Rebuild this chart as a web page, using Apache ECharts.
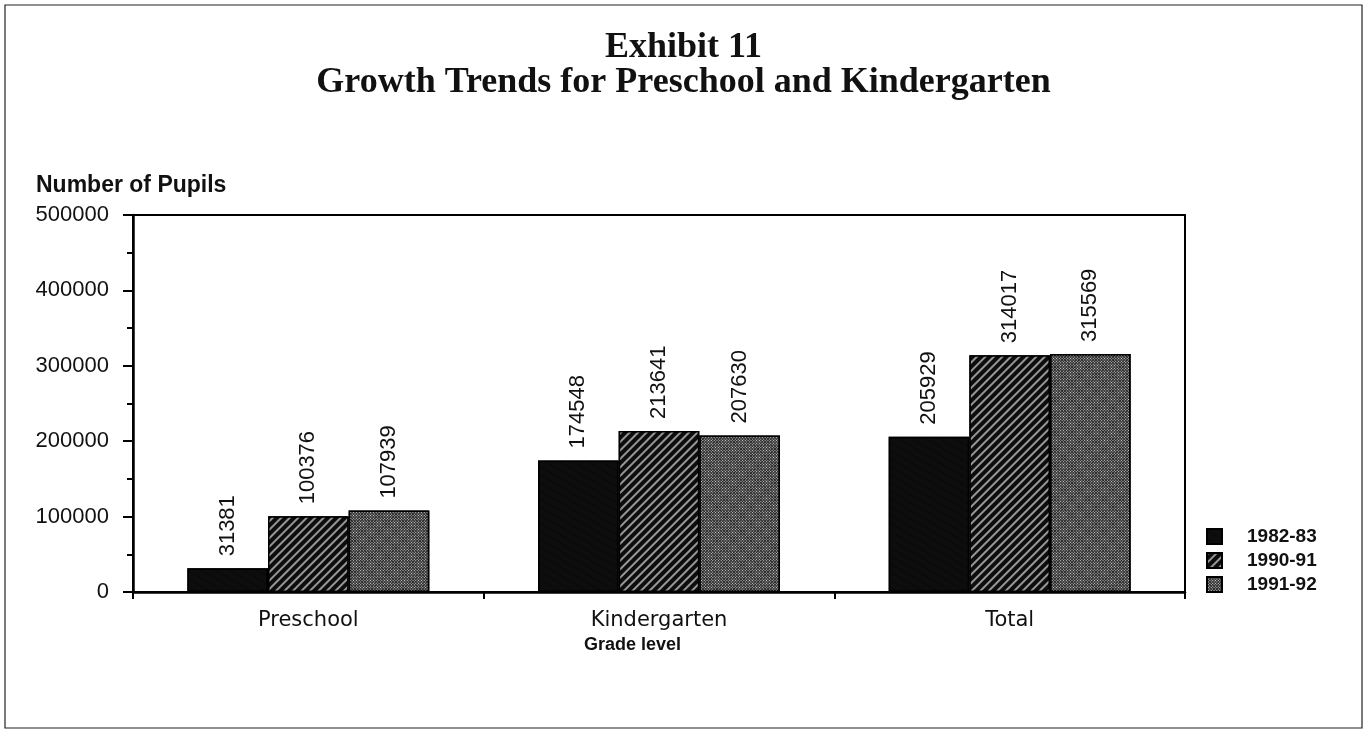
<!DOCTYPE html>
<html><head><meta charset="utf-8">
<script src="https://cdn.jsdelivr.net/npm/echarts@6/dist/echarts.min.js"></script>
<style>html,body{margin:0;padding:0;background:#fff}#c{width:1367px;height:733px}</style>
</head><body><div id="c"></div>
<script>
const categories = ['Preschool', 'Kindergarten', 'Total'];
const seriesNames = ['1982-83', '1990-91', '1991-92'];
const v1982 = [31381, 174548, 205929];
const v1990 = [100376, 213641, 314017];
const v1991 = [107939, 207630, 315569];
const yTicks = [0, 100000, 200000, 300000, 400000, 500000];

const chart = echarts.init(document.getElementById('c'));
const lbl = {
  show: true, position: 'top', rotate: 90, align: 'left', verticalAlign: 'middle',
  distance: 12, color: '#111', fontFamily: 'Liberation Sans', fontSize: 22
};
const styles = [
  { color: '#0d0d0d', borderColor: '#000', borderWidth: 1.5 },
  { color: '#0d0d0d', borderColor: '#000', borderWidth: 1.5,
    decal: { symbol: 'rect', color: 'rgba(255,255,255,0.95)', dashArrayX: [1, 0], dashArrayY: [2, 4], rotation: -Math.PI / 4 } },
  { color: '#2a2a2a', borderColor: '#000', borderWidth: 1.5,
    decal: { symbol: 'rect', color: 'rgba(225,225,225,0.95)', symbolSize: 1, dashArrayX: [1, 1], dashArrayY: [1, 1], rotation: Math.PI / 4 } }
];
const datas = [v1982, v1990, v1991];
chart.setOption({
  animation: false,
  aria: { enabled: true, decal: { show: true } },
  title: {
    text: 'Exhibit 11\nGrowth Trends for Preschool and Kindergarten',
    left: 'center', top: 25,
    textStyle: { fontFamily: 'Liberation Serif', fontWeight: 'bold', fontSize: 36, lineHeight: 35, color: '#111' }
  },
  graphic: [
    { type: 'rect', shape: { x: 5, y: 5, width: 1357, height: 723 }, style: { fill: 'none', stroke: '#222', lineWidth: 1.2 } },
    { type: 'text', left: 36, top: 174, style: { text: 'Number of Pupils', font: 'bold 23px "Liberation Sans"', fill: '#111' } }
  ],
  legend: {
    orient: 'vertical', left: 1201, top: 522, itemWidth: 15, itemHeight: 15, itemGap: 5,
    icon: 'rect',
    data: seriesNames,
    textStyle: { fontFamily: 'Liberation Sans', fontWeight: 'bold', fontSize: 19, color: '#111', padding: [0, 0, 0, 20] }
  },
  grid: { left: 133, right: 182, top: 215, bottom: 141, show: true, borderColor: '#000', borderWidth: 2 },
  xAxis: {
    type: 'category', data: categories,
    name: 'Grade level', nameLocation: 'middle', nameGap: 40,
    nameTextStyle: { fontFamily: 'Liberation Sans', fontWeight: 'bold', fontSize: 18, color: '#111', padding: [0, 53, 0, 0] },
    axisLine: { lineStyle: { color: '#000', width: 2.5 } },
    axisTick: { show: true, length: 7, lineStyle: { color: '#000', width: 2 } },
    axisLabel: { fontFamily: 'DejaVu Sans', fontSize: 21, color: '#111', margin: 18 }
  },
  yAxis: {
    type: 'value', min: yTicks[0], max: yTicks[yTicks.length - 1], interval: 100000,
    axisLine: { show: true, lineStyle: { color: '#000', width: 2.5 } },
    axisTick: { show: true, length: 10, lineStyle: { color: '#000', width: 2 } },
    minorTick: { show: true, splitNumber: 2, length: 6, lineStyle: { color: '#000', width: 2 } },
    splitLine: { show: false },
    axisLabel: { fontFamily: 'Liberation Sans', fontSize: 22, color: '#111', margin: 24, formatter: v => String(v) }
  },
  series: seriesNames.map((n, i) => ({
    name: n, type: 'bar', data: datas[i], barGap: '0%', barCategoryGap: '31%',
    itemStyle: styles[i], label: lbl
  }))
});
</script></body></html>
